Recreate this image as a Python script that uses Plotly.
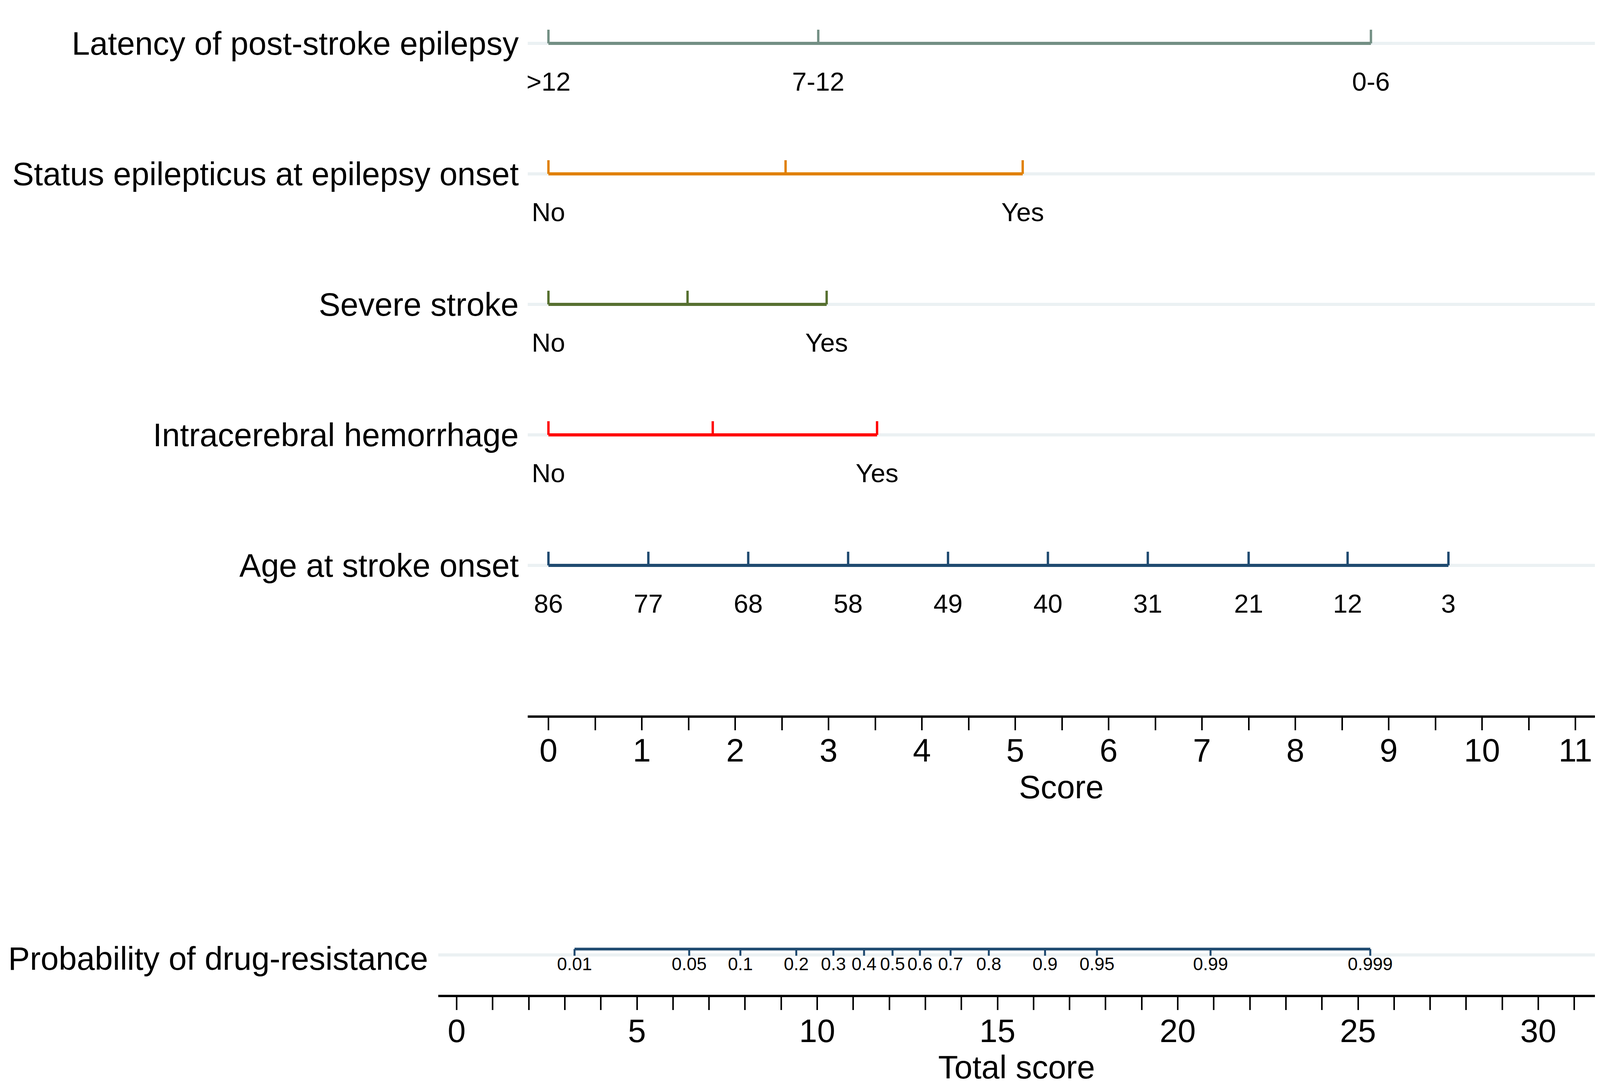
import plotly.graph_objects as go

W, H = 4119, 2782

# ---------------- data ----------------
row_names = [
    "Latency of post-stroke epilepsy",
    "Status epilepticus at epilepsy onset",
    "Severe stroke",
    "Intracerebral hemorrhage",
    "Age at stroke onset",
]
row_colors = ["#738f84", "#e08000", "#567030", "#ff0000", "#1f4a70"]

latency_labels = [">12", "7-12", "0-6"]
latency_points = [0, 2.89, 8.81]

status_labels = ["No", "", "Yes"]
status_points = [0, 2.54, 5.08]

severe_labels = ["No", "", "Yes"]
severe_points = [0, 1.49, 2.98]

ich_labels = ["No", "", "Yes"]
ich_points = [0, 1.76, 3.52]

age_labels = ["86", "77", "68", "58", "49", "40", "31", "21", "12", "3"]
age_points = [0, 1.07, 2.14, 3.21, 4.28, 5.35, 6.42, 7.50, 8.56, 9.64]

prob_labels = ["0.01", "0.05", "0.1", "0.2", "0.3", "0.4", "0.5", "0.6",
               "0.7", "0.8", "0.9", "0.95", "0.99", "0.999"]
prob_total_points = [3.27, 6.45, 7.87, 9.42, 10.45, 11.30, 12.09, 12.85,
                     13.70, 14.76, 16.32, 17.76, 20.91, 25.34]
prob_name = "Probability of drug-resistance"
prob_color = "#1f4a70"

rows_labels = [latency_labels, status_labels, severe_labels, ich_labels, age_labels]
rows_points = [latency_points, status_points, severe_points, ich_points, age_points]

# ---------------- layout constants (pixels) ----------------
ROW_PX = 334.0          # pixel distance between rows (1 y unit)
ROW0_PX = 103.0         # pixel y of first row
PROB_PX = 2421.0        # pixel y of probability row
SCORE_AX_PX = 1826.0
TOTAL_AX_PX = 2541.0
FONT = "Liberation Sans, Arial, Helvetica, sans-serif"

tick_up = 35 / ROW_PX
lab_off = 104 / ROW_PX

fig = go.Figure()

# ---------------- top rows ----------------
for k, (labs, pts, col) in enumerate(zip(rows_labels, rows_points, row_colors)):
    fig.add_trace(go.Scatter(x=[min(pts), max(pts)], y=[k, k], mode="lines",
                             line=dict(color=col, width=8), xaxis="x", yaxis="y",
                             hoverinfo="skip"))
    tx, ty = [], []
    for p in pts:
        tx += [p, p, None]
        ty += [k, k - tick_up, None]
    fig.add_trace(go.Scatter(x=tx, y=ty, mode="lines",
                             line=dict(color=col, width=6), xaxis="x", yaxis="y",
                             hoverinfo="skip"))
    fig.add_trace(go.Scatter(x=pts, y=[k + lab_off] * len(pts), mode="text",
                             text=labs, textposition="middle center",
                             textfont=dict(family=FONT, size=67, color="black"),
                             xaxis="x", yaxis="y", hoverinfo="skip"))
    fig.add_shape(type="line", xref="x domain", yref="y", x0=0, x1=1, y0=k, y1=k,
                  line=dict(color="#ebf1f3", width=8), layer="below")

# ---------------- probability row ----------------
fig.add_trace(go.Scatter(x=[min(prob_total_points), max(prob_total_points)], y=[0, 0],
                         mode="lines", line=dict(color=prob_color, width=7),
                         xaxis="x2", yaxis="y2", hoverinfo="skip"))
ptx, pty = [], []
for p in prob_total_points:
    ptx += [p, p, None]
    pty += [0, 17 / ROW_PX, None]
fig.add_trace(go.Scatter(x=ptx, y=pty, mode="lines", line=dict(color=prob_color, width=5),
                         xaxis="x2", yaxis="y2", hoverinfo="skip"))
fig.add_trace(go.Scatter(x=prob_total_points, y=[42 / ROW_PX] * len(prob_total_points),
                         mode="text", text=prob_labels, textposition="middle center",
                         textfont=dict(family=FONT, size=46, color="black"),
                         xaxis="x2", yaxis="y2", hoverinfo="skip"))
fig.add_shape(type="line", xref="x2 domain", yref="y2", x0=0, x1=1,
              y0=15 / ROW_PX, y1=15 / ROW_PX,
              line=dict(color="#ebf1f3", width=8), layer="below")

# ---------------- axes ----------------
sx0, sx1 = 1343.0, 4075.0
s_zero, s_unit = 1396.0, 239.0
tx0, tx1 = 1114.0, 4075.0
t_zero, t_unit = 1161.0, 92.3

axis_font = dict(family=FONT, size=83, color="black")

fig.update_layout(
    width=W, height=H, autosize=False,
    margin=dict(l=0, r=0, t=0, b=0, pad=0),
    paper_bgcolor="white", plot_bgcolor="rgba(0,0,0,0)",
    showlegend=False, hovermode=False,
    font=dict(family=FONT, color="black"),
    xaxis=dict(
        domain=[sx0 / W, sx1 / W],
        range=[(sx0 - s_zero) / s_unit, (sx1 - s_zero) / s_unit],
        anchor="free", position=1 - SCORE_AX_PX / H,
        showline=True, linewidth=6, linecolor="black",
        ticks="outside", ticklen=32, tickwidth=4, tickcolor="black",
        tick0=0, dtick=1, tickfont=axis_font, ticklabelstandoff=-20,
        minor=dict(dtick=0.5, tick0=0, ticks="outside", ticklen=32, tickwidth=4,
                   tickcolor="black", showgrid=False),
        showgrid=False, zeroline=False,
        title=dict(text="Score", font=axis_font, standoff=18),
    ),
    yaxis=dict(
        domain=[0, 1],
        range=[(H - ROW0_PX) / ROW_PX, -ROW0_PX / ROW_PX],
        anchor="x",
        tickvals=list(range(len(row_names))), ticktext=row_names,
        tickfont=axis_font, ticks="", ticklabelstandoff=22,
        showline=False, showgrid=False, zeroline=False,
    ),
    xaxis2=dict(
        domain=[tx0 / W, tx1 / W],
        range=[(tx0 - t_zero) / t_unit, (tx1 - t_zero) / t_unit],
        anchor="free", position=1 - TOTAL_AX_PX / H,
        showline=True, linewidth=6, linecolor="black",
        ticks="outside", ticklen=33, tickwidth=4, tickcolor="black",
        tick0=0, dtick=5, tickfont=axis_font, ticklabelstandoff=-18,
        minor=dict(dtick=1, tick0=0, ticks="outside", ticklen=33, tickwidth=4,
                   tickcolor="black", showgrid=False),
        showgrid=False, zeroline=False,
        title=dict(text="Total score", font=axis_font, standoff=17),
    ),
    yaxis2=dict(
        domain=[0, 1],
        range=[(H - PROB_PX) / ROW_PX, -PROB_PX / ROW_PX],
        anchor="x2",
        tickvals=[24 / ROW_PX], ticktext=[prob_name],
        tickfont=axis_font, ticks="", ticklabelstandoff=25,
        showline=False, showgrid=False, zeroline=False,
    ),
)

fig.write_html("out.html")
